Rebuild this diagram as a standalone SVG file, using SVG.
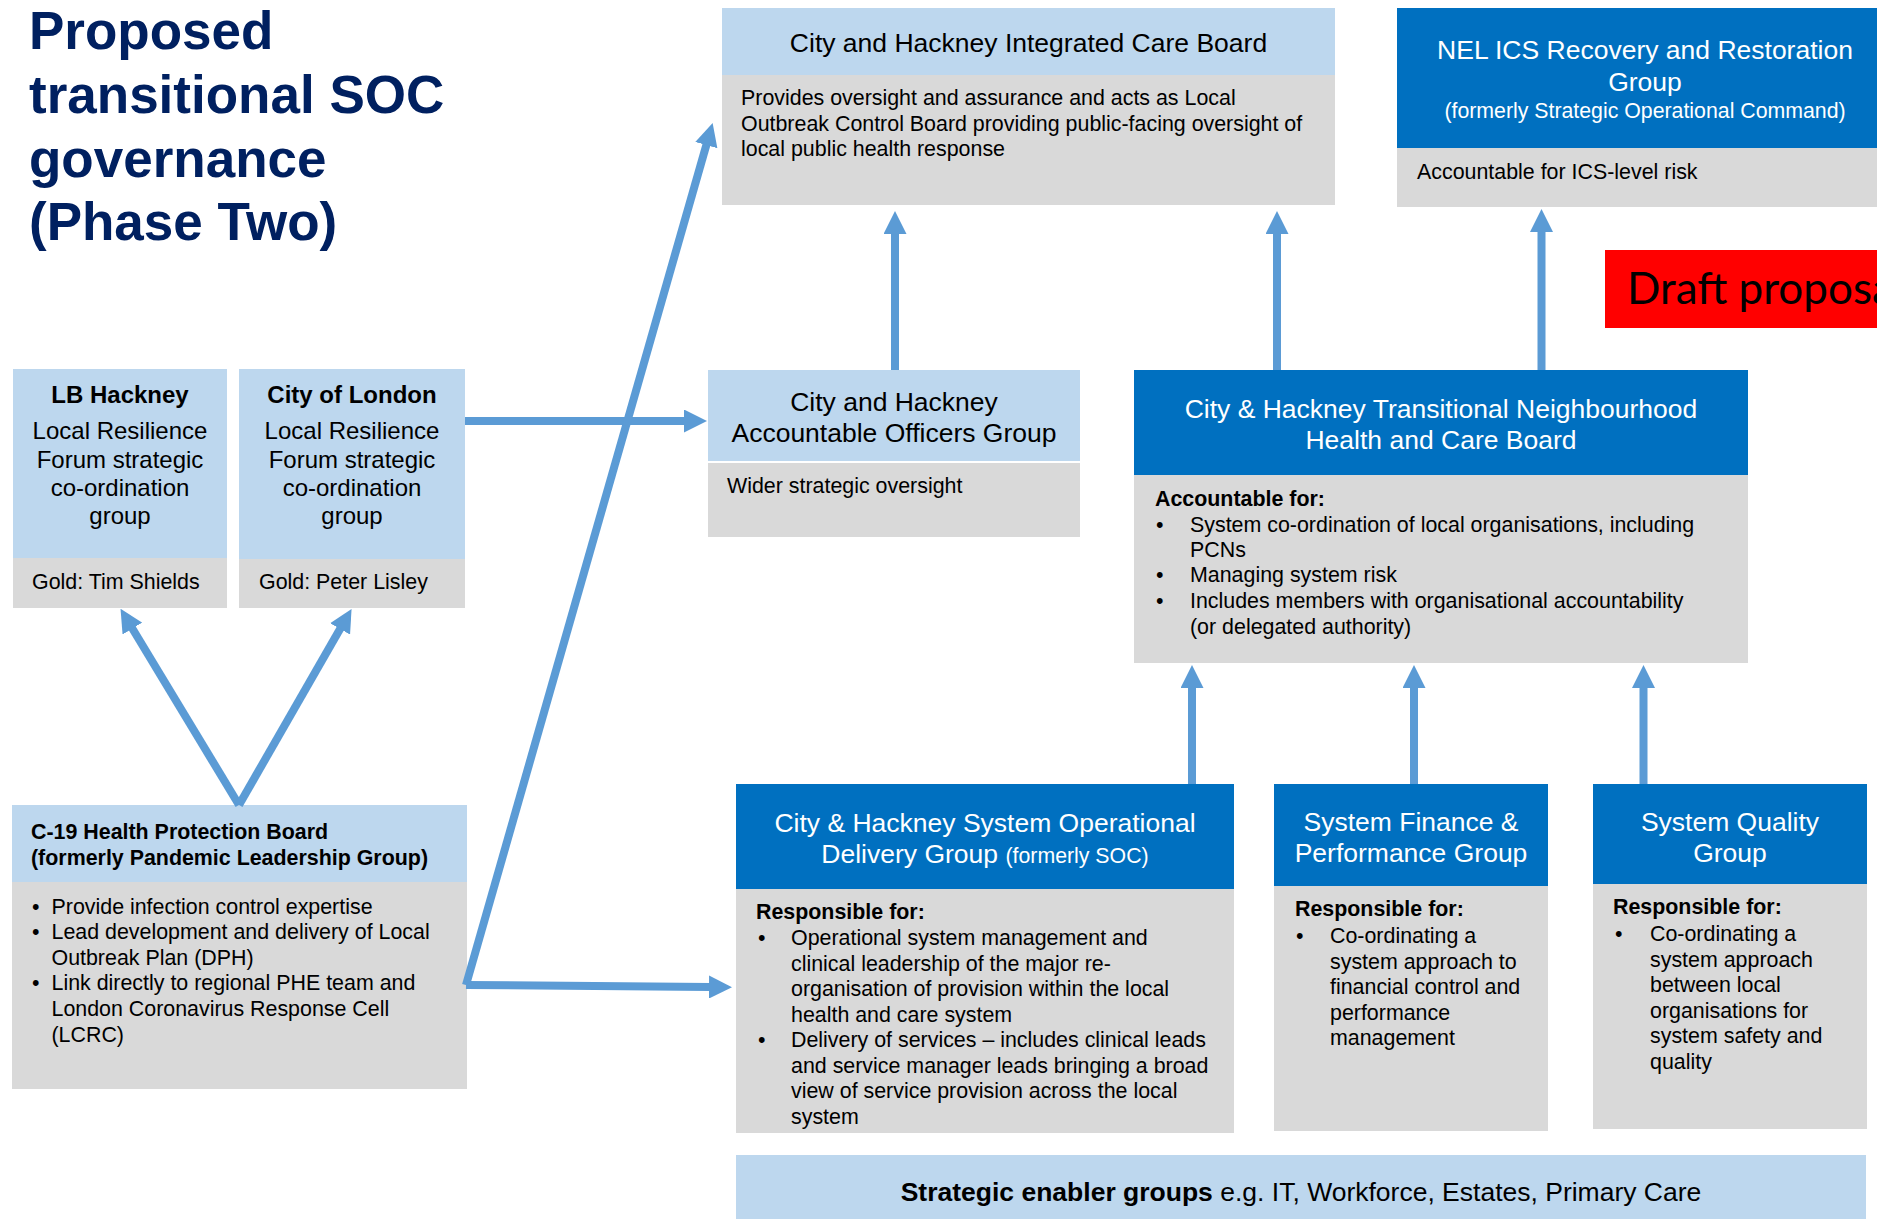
<svg xmlns="http://www.w3.org/2000/svg" width="1877" height="1221" viewBox="0 0 1877 1221">
<style>
text{font-family:"Liberation Sans",Arial,Helvetica,sans-serif;fill:#000}
.lb{fill:#BDD7EE}.gy{fill:#D9D9D9}.db{fill:#0070C0}
.h{font-size:26.5px;text-anchor:middle}
.w{fill:#fff}
.s{font-size:21.3px}
.b{font-size:21.4px}
.bold{font-weight:bold}
.g{font-size:24px;text-anchor:middle}
.gold{font-size:21.4px}
.ttl{font-size:53px;font-weight:bold;fill:#002060}
#connectors line{stroke:#5B9BD5;stroke-width:8;fill:none;marker-end:url(#ah)}
</style>
<defs>
<marker id="ah" markerUnits="userSpaceOnUse" viewBox="0 0 23 23" markerWidth="23" markerHeight="23" refX="1" refY="11.5" orient="auto">
<path d="M0,0 L23,11.5 L0,23 Z" fill="#5B9BD5"/>
</marker>
</defs>
<rect width="1877" height="1221" fill="#fff"/>

<g id="title">
<text class="ttl" x="29" y="49">Proposed</text>
<text class="ttl" x="29" y="113">transitional SOC</text>
<text class="ttl" x="29" y="177">governance</text>
<text class="ttl" x="29" y="240">(Phase Two)</text>
</g>

<g id="icb">
<rect class="lb" x="722" y="8" width="613" height="67"/>
<rect class="gy" x="722" y="75" width="613" height="130"/>
<text class="h" x="1028.5" y="52">City and Hackney Integrated Care Board</text>
<text class="b" x="741" y="105">Provides oversight and assurance and acts as Local</text>
<text class="b" x="741" y="131">Outbreak Control Board providing public-facing oversight of</text>
<text class="b" x="741" y="156">local public health response</text>
</g>

<g id="nel">
<rect class="db" x="1397" y="8" width="480" height="140"/>
<rect class="gy" x="1397" y="148" width="480" height="59"/>
<text class="h w" x="1645" y="59">NEL ICS Recovery and Restoration</text>
<text class="h w" x="1645" y="91">Group</text>
<text class="s w" x="1645" y="117.5" text-anchor="middle">(formerly Strategic Operational Command)</text>
<text class="b" x="1417" y="179">Accountable for ICS-level risk</text>
</g>

<g id="draft">
<rect x="1605" y="250" width="272" height="78" fill="#FF0000"/>
<text x="1627" y="304" style="font-family:Lato,'Open Sans',sans-serif;font-size:44px">Draft proposal</text>
</g>

<g id="lb-hackney">
<rect class="lb" x="13" y="369" width="214" height="189"/>
<rect class="gy" x="13" y="558" width="214" height="50"/>
<text class="g bold" x="120" y="403">LB Hackney</text>
<text class="g" x="120" y="439">Local Resilience</text>
<text class="g" x="120" y="468">Forum strategic</text>
<text class="g" x="120" y="496">co-ordination</text>
<text class="g" x="120" y="524">group</text>
<text class="gold" x="32" y="589">Gold: Tim Shields</text>
</g>

<g id="city-of-london">
<rect class="lb" x="239" y="369" width="226" height="190"/>
<rect class="gy" x="239" y="559" width="226" height="49"/>
<text class="g bold" x="352" y="403">City of London</text>
<text class="g" x="352" y="439">Local Resilience</text>
<text class="g" x="352" y="468">Forum strategic</text>
<text class="g" x="352" y="496">co-ordination</text>
<text class="g" x="352" y="524">group</text>
<text class="gold" x="259" y="589">Gold: Peter Lisley</text>
</g>

<g id="aog">
<rect class="lb" x="708" y="370" width="372" height="91"/>
<rect class="gy" x="708" y="463" width="372" height="74"/>
<text class="h" x="894" y="410.5">City and Hackney</text>
<text class="h" x="894" y="441.5">Accountable Officers Group</text>
<text class="b" x="727" y="493">Wider strategic oversight</text>
</g>

<g id="tnhcb">
<rect class="db" x="1134" y="370" width="614" height="105"/>
<rect class="gy" x="1134" y="475" width="614" height="188"/>
<text class="h w" x="1441" y="417.5">City &amp; Hackney Transitional Neighbourhood</text>
<text class="h w" x="1441" y="448.5">Health and Care Board</text>
<text class="b bold" x="1155" y="506">Accountable for:</text>
<text class="b" x="1156" y="532">•</text>
<text class="b" x="1190" y="532">System co-ordination of local organisations, including</text>
<text class="b" x="1190" y="557">PCNs</text>
<text class="b" x="1156" y="582">•</text>
<text class="b" x="1190" y="582">Managing system risk</text>
<text class="b" x="1156" y="608">•</text>
<text class="b" x="1190" y="608">Includes members with organisational accountability</text>
<text class="b" x="1190" y="634">(or delegated authority)</text>
</g>

<g id="c19">
<rect class="lb" x="12" y="805" width="455" height="77"/>
<rect class="gy" x="12" y="882" width="455" height="207"/>
<text class="b bold" x="31" y="839">C-19 Health Protection Board</text>
<text class="b bold" x="31" y="865">(formerly Pandemic Leadership Group)</text>
<text class="b" x="32" y="913.5">•</text>
<text class="b" x="51.5" y="913.5">Provide infection control expertise</text>
<text class="b" x="32" y="939">•</text>
<text class="b" x="51.5" y="939">Lead development and delivery of Local</text>
<text class="b" x="51.5" y="964.5">Outbreak Plan (DPH)</text>
<text class="b" x="32" y="990">•</text>
<text class="b" x="51.5" y="990">Link directly to regional PHE team and</text>
<text class="b" x="51.5" y="1016">London Coronavirus Response Cell</text>
<text class="b" x="51.5" y="1041.5">(LCRC)</text>
</g>

<g id="sodg">
<rect class="db" x="736" y="784" width="498" height="105"/>
<rect class="gy" x="736" y="889" width="498" height="244"/>
<text class="h w" x="985" y="832">City &amp; Hackney System Operational</text>
<text class="h w" x="985" y="863">Delivery Group <tspan style="font-size:21.3px">(formerly SOC)</tspan></text>
<text class="b bold" x="756" y="918.5">Responsible for:</text>
<text class="b" x="758" y="945">•</text>
<text class="b" x="791" y="945">Operational system management and</text>
<text class="b" x="791" y="970.5">clinical leadership of the major re-</text>
<text class="b" x="791" y="996">organisation of provision within the local</text>
<text class="b" x="791" y="1021.5">health and care system</text>
<text class="b" x="758" y="1047">•</text>
<text class="b" x="791" y="1047">Delivery of services – includes clinical leads</text>
<text class="b" x="791" y="1072.5">and service manager leads bringing a broad</text>
<text class="b" x="791" y="1098">view of service provision across the local</text>
<text class="b" x="791" y="1123.5">system</text>
</g>

<g id="sfpg">
<rect class="db" x="1274" y="784" width="274" height="102"/>
<rect class="gy" x="1274" y="886" width="274" height="245"/>
<text class="h w" x="1411" y="830.5">System Finance &amp;</text>
<text class="h w" x="1411" y="861.5">Performance Group</text>
<text class="b bold" x="1295" y="916">Responsible for:</text>
<text class="b" x="1296" y="943">•</text>
<text class="b" x="1330" y="943">Co-ordinating a</text>
<text class="b" x="1330" y="968.5">system approach to</text>
<text class="b" x="1330" y="994">financial control and</text>
<text class="b" x="1330" y="1019.5">performance</text>
<text class="b" x="1330" y="1045">management</text>
</g>

<g id="sqg">
<rect class="db" x="1593" y="784" width="274" height="100"/>
<rect class="gy" x="1593" y="884" width="274" height="245"/>
<text class="h w" x="1730" y="830.5">System Quality</text>
<text class="h w" x="1730" y="861.5">Group</text>
<text class="b bold" x="1613" y="914">Responsible for:</text>
<text class="b" x="1615" y="941">•</text>
<text class="b" x="1650" y="941">Co-ordinating a</text>
<text class="b" x="1650" y="966.5">system approach</text>
<text class="b" x="1650" y="992">between local</text>
<text class="b" x="1650" y="1017.5">organisations for</text>
<text class="b" x="1650" y="1043">system safety and</text>
<text class="b" x="1650" y="1068.5">quality</text>
</g>

<g id="enablers">
<rect class="lb" x="736" y="1155" width="1130" height="64"/>
<text class="h" x="1301" y="1201"><tspan class="bold">Strategic enabler groups</tspan> e.g. IT, Workforce, Estates, Primary Care</text>
</g>

<g id="connectors">
<line x1="895" y1="370" x2="895" y2="233"/>
<line x1="1277" y1="370" x2="1277" y2="233"/>
<line x1="1541.5" y1="370" x2="1541.5" y2="231"/>
<line x1="465" y1="421" x2="685" y2="421"/>
<line x1="239" y1="805" x2="131.9" y2="627.7"/>
<line x1="239" y1="805" x2="340.6" y2="628"/>
<line x1="466" y1="985" x2="706.6" y2="144.1"/>
<line x1="466" y1="985" x2="710" y2="987"/>
<line x1="1192" y1="784" x2="1192" y2="687"/>
<line x1="1414" y1="784" x2="1414" y2="687"/>
<line x1="1643.5" y1="784" x2="1643.5" y2="687"/>
</g>
</svg>
